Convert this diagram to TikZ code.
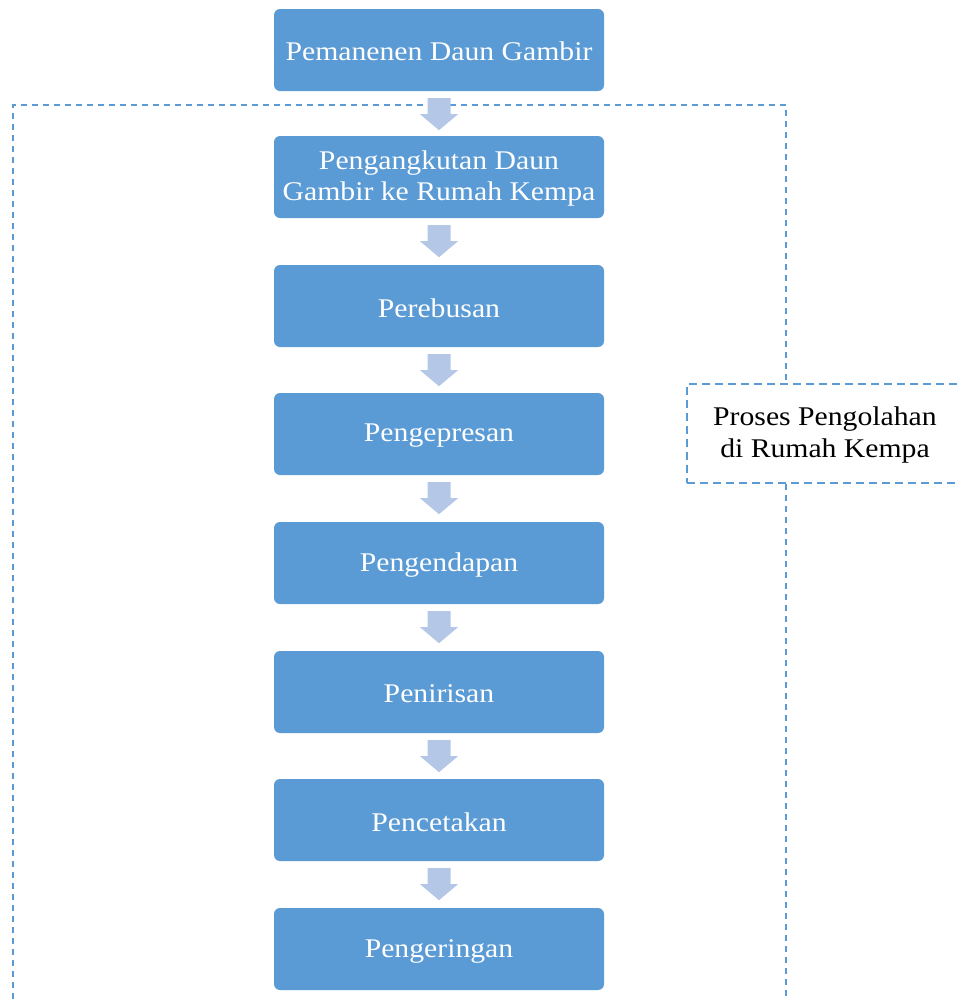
\documentclass[tikz,border=0pt]{standalone}
\usepackage{fontspec}
\setmainfont[FakeStretch=1.1]{Liberation Serif}
\usetikzlibrary{calc}
\definecolor{boxc}{HTML}{5B9BD5}
\definecolor{arrc}{HTML}{B4C7E7}
\tikzset{
  stepbox/.style={rectangle, rounded corners=6pt, fill=boxc, text=white,
    minimum width=330pt, minimum height=82pt, inner sep=0pt,
    align=center, font=\fontsize{27}{31}\selectfont},
  steptext/.style={text=white, align=center, font=\fontsize{27}{31}\selectfont, inner sep=0pt},
  labelbox/.style={draw=boxc, line width=2.2pt, dash pattern=on 8pt off 5pt,
    fill=white},
  outerline/.style={draw=boxc, line width=1.4pt, dash pattern=on 6pt off 5pt},
  blockarrow/.style={fill=arrc, draw=none}
}
\begin{document}
\begin{tikzpicture}[x=1pt,y=-1pt]
\useasboundingbox (0,0) rectangle (960,999);
\clip (0,0) rectangle (960,999);
% outer dashed frame (open at bottom)
\draw[outerline] (13,1010) -- (13,105) -- (786,105) -- (786,1010);
% label box
\node[labelbox, minimum width=300pt, minimum height=99pt, anchor=north west, inner sep=0pt] (lbl) at (686,383) {};
\node[align=center, font=\fontsize{27}{32}\selectfont, text=black] (lbltext) at (825,435) {Proses Pengolahan\\di Rumah Kempa};
% steps
\node[stepbox] (b1) at (439,50) {};
\node[stepbox] (b2) at (439,177) {};
\node[stepbox] (b3) at (439,306) {};
\node[stepbox] (b4) at (439,434) {};
\node[stepbox] (b5) at (439,563) {};
\node[stepbox] (b6) at (439,692) {};
\node[stepbox] (b7) at (439,820) {};
\node[stepbox] (b8) at (439,949) {};
\node[steptext] (t1) at ($(b1.center)+(0,1)$) {Pemanenen Daun Gambir};
\node[steptext] (t2) at ($(b2.center)+(0,2)$) {Pengangkutan Daun\\Gambir ke Rumah Kempa};
\node[steptext] (t3) at ($(b3.center)+(0,2)$) {Perebusan};
\node[steptext] (t4) at ($(b4.center)+(0,2)$) {Pengepresan};
\node[steptext] (t5) at ($(b5.center)+(0,2)$) {Pengendapan};
\node[steptext] (t6) at ($(b6.center)+(0,2)$) {Penirisan};
\node[steptext] (t7) at ($(b7.center)+(0,2)$) {Pencetakan};
\node[steptext] (t8) at ($(b8.center)+(0,2)$) {Pengeringan};
\foreach \i in {1,...,7}{
  \fill[blockarrow] ($(b\i.south)+(-11.5,7)$) -- ++(0,16) -- ++(-7.5,0)
     -- ($(b\i.south)+(0,39)$) -- ($(b\i.south)+(19,23)$) -- ++(-7.5,0)
     -- ($(b\i.south)+(11.5,7)$) -- cycle;
}
\end{tikzpicture}
\end{document}
